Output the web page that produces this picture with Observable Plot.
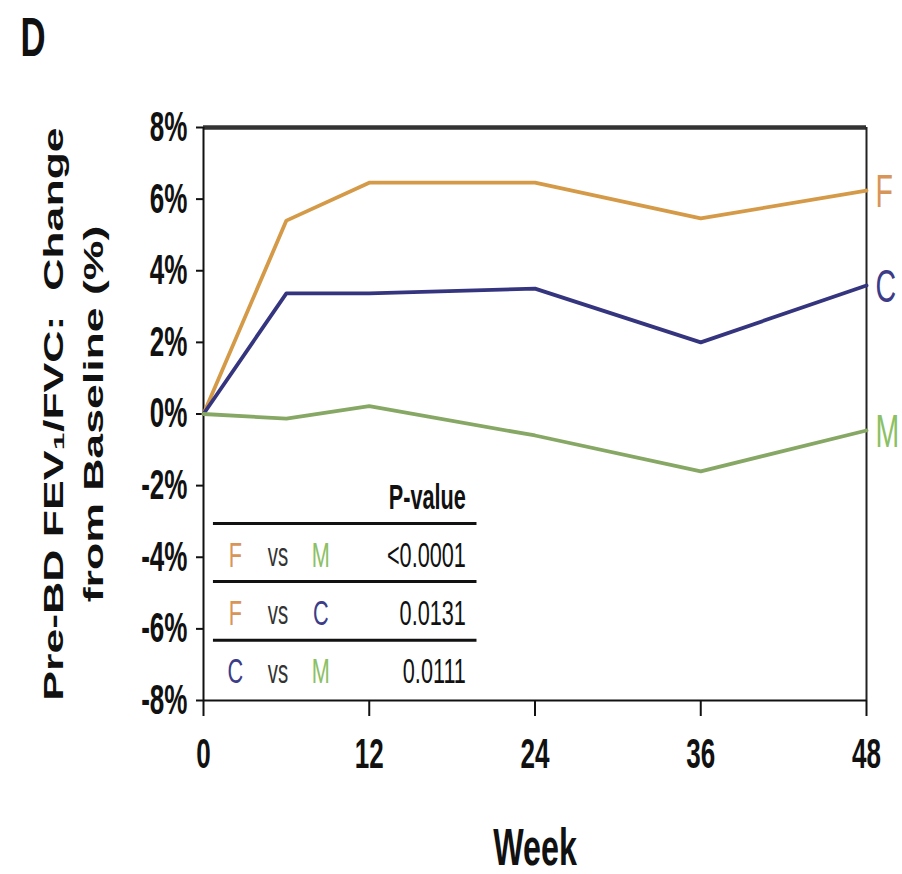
<!DOCTYPE html>
<html>
<head>
<meta charset="utf-8">
<script src="https://cdn.jsdelivr.net/npm/d3@7"></script>
<script src="https://cdn.jsdelivr.net/npm/@observablehq/plot@0.6"></script>
<style>
  html, body { margin: 0; padding: 0; background: #fff; }
  #chart { width: 902px; height: 874px; }
</style>
</head>
<body>
<div id="chart"></div>
<script>
// ---- data ----
const weeks = [0, 6, 12, 24, 36, 48];
const seriesNames = ["F", "C", "M"];
const fValues = [0, 5.4, 6.46, 6.46, 5.46, 6.24];
const cValues = [0, 3.37, 3.37, 3.5, 2.0, 3.59];
const mValues = [0, -0.13, 0.22, -0.6, -1.6, -0.46];
const seriesColors = ["#d49a48", "#35357f", "#86a864"];
const labelColors = ["#d8955a", "#3c3c88", "#8cc064"];
const yTicks = [-8, -6, -4, -2, 0, 2, 4, 6, 8];
const xTicks = [0, 12, 24, 36, 48];
const comparisons = [["F", "M"], ["F", "C"], ["C", "M"]];
const pValues = ["<0.0001", "0.0131", "0.0111"];
const tableHeader = "P-value";
const xLabel = "Week";
const yLabel = "Pre-BD FEV\u2081/FVC:  Change\nfrom Baseline (%)";
const panelLabel = "D";

// ---- tidy ----
const valuesBySeries = {F: fValues, C: cValues, M: mValues};
const lineData = seriesNames.flatMap(s => weeks.map((w, i) => ({series: s, week: w, value: valuesBySeries[s][i]})));
const endData = seriesNames.map(s => ({series: s, week: weeks[weeks.length - 1], value: valuesBySeries[s][weeks.length - 1]}));
const tableRows = comparisons.map(([a, b], i) => ({a, b, p: pValues[i], row: i}));

// table layout (in data units)
const rowY = i => -3.95 - i * 1.63;
const ruleYs = [-3.06, -4.68, -6.32];
const colA = 2.3, colVs = 5.4, colB = 8.5, colP = 19.0, tabX1 = 0.72, tabX2 = 19.8;

const FONT = "'Liberation Sans', Arial, Helvetica, sans-serif";

const plot = Plot.plot({
  width: 902,
  height: 874,
  marginLeft: 203,
  marginRight: 36,
  marginTop: 127,
  marginBottom: 174,
  style: {fontFamily: FONT, fontSize: "42px", background: "#fff", color: "#111"},
  x: {domain: [0, 48], label: null, axis: null},
  y: {domain: [-8, 8], label: null, axis: null},
  color: {domain: seriesNames, range: seriesColors},
  marks: [
    // frame
    Plot.ruleY([8], {stroke: "#333", strokeWidth: 4.5}),
    Plot.ruleX([48], {stroke: "#222", strokeWidth: 2}),
    Plot.ruleX([0], {stroke: "#111", strokeWidth: 2}),
    Plot.ruleY([-8], {stroke: "#111", strokeWidth: 2}),
    Plot.axisY(yTicks, {anchor: "left", tickSize: 7, tickPadding: 9, strokeWidth: 2, stroke: "#111",
      tickFormat: d => d + "%", fontSize: 42, fontWeight: "bold", label: null}),
    Plot.axisX(xTicks, {anchor: "bottom", tickSize: 16, tickPadding: 22, strokeWidth: 2, stroke: "#111",
      fontSize: 42, fontWeight: "bold", label: null}),
    // series
    Plot.line(lineData, {x: "week", y: "value", z: "series", stroke: "series", strokeWidth: 3.8}),
    Plot.text(endData, {x: "week", y: "value", text: "series", fill: d => labelColors[seriesNames.indexOf(d.series)],
      dx: 9, dy: 2, textAnchor: "start", fontSize: 46, fontWeight: "normal"}),
    // p-value table
    Plot.text([tableHeader], {x: () => colP, y: () => rowY(0) + 1.62, text: d => d, textAnchor: "end",
      fontSize: 35, fontWeight: "bold", fill: "#111"}),
    Plot.ruleY(ruleYs, {x1: tabX1, x2: tabX2, stroke: "#111", strokeWidth: 3}),
    Plot.text(tableRows, {x: () => colA, y: d => rowY(d.row), text: "a", fill: d => labelColors[seriesNames.indexOf(d.a)], fontSize: 35}),
    Plot.text(tableRows, {x: () => colVs, y: d => rowY(d.row), text: () => "vs", fill: "#333", fontSize: 33}),
    Plot.text(tableRows, {x: () => colB, y: d => rowY(d.row), text: "b", fill: d => labelColors[seriesNames.indexOf(d.b)], fontSize: 35}),
    Plot.text(tableRows, {x: () => colP, y: d => rowY(d.row), text: "p", textAnchor: "end", fill: "#111", fontSize: 35}),
    // titles
    Plot.text([xLabel], {frameAnchor: "bottom", text: d => d, lineAnchor: "bottom", dy: 164, fontSize: 52, fontWeight: "bold", fill: "#111"}),
    Plot.text([yLabel], {frameAnchor: "left", text: d => d, rotate: -90, dx: -133, textAnchor: "middle", lineAnchor: "middle",
      lineHeight: 1.45, fontSize: 44.6, fontWeight: "bold", fill: "#111", ariaDescription: "ylabel"}),
    Plot.text([panelLabel], {frameAnchor: "top-left", text: d => d, textAnchor: "start", lineAnchor: "bottom",
      dx: -183, dy: -72, fontSize: 56, fontWeight: "bold", fill: "#111"})
  ]
});

// condense all text horizontally (the reference has a narrow, tall lettering)
const S = 0.62;
plot.querySelectorAll("text").forEach(t => {
  const g = t.closest("g[aria-description]");
  const isYLabel = g && g.getAttribute("aria-description") === "ylabel";
  const tr = t.getAttribute("transform") || "";
  const sc = isYLabel ? `scale(1,${S})` : `scale(${S},1)`;
  t.setAttribute("transform", (tr + " " + sc).trim());
});

document.getElementById("chart").appendChild(plot);
</script>
</body>
</html>
